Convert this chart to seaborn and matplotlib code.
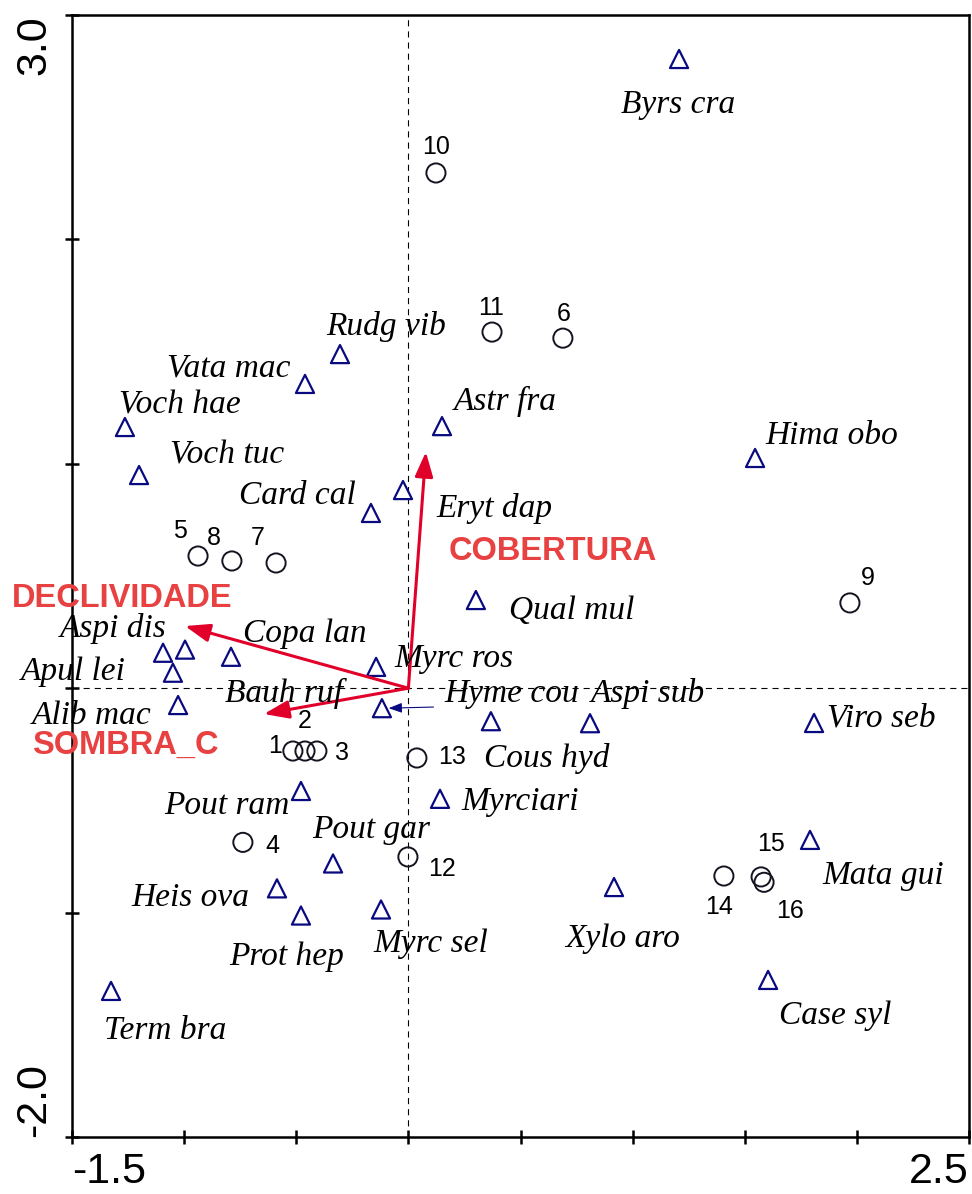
import numpy as np
import pandas as pd
import matplotlib
matplotlib.use("Agg")
import matplotlib.pyplot as plt
import seaborn as sns

# --- CCA scores ---
# sample plots (circles)
site_ids = ["1", "2", "3", "4", "5", "6", "7", "8", "9", "10", "11", "12", "13", "14", "15", "16"]
site_x = [-0.515, -0.461, -0.408, -0.738, -0.938, 0.689, -0.590, -0.787, 1.969, 0.123, 0.373, -0.002, 0.038, 1.407, 1.573, 1.586]
site_y = [-0.280, -0.280, -0.280, -0.687, 0.589, 1.560, 0.558, 0.567, 0.380, 2.296, 1.587, -0.752, -0.311, -0.837, -0.841, -0.865]

# species (triangles)
species = ["Byrs cra", "Rudg vib", "Vata mac", "Voch hae", "Astr fra", "Hima obo", "Voch tuc",
           "Eryt dap", "Card cal", "Qual mul", "Aspi dis", "Apul lei", "Copa lan", "Bauh ruf",
           "Myrc ros", "Alib mac", "Hyme cou", "Cous hyd", "Aspi sub", "Viro seb", "Pout ram",
           "Myrciari", "Mata gui", "Pout gar", "Xylo aro", "Heis ova", "Myrc sel", "Prot hep",
           "Case syl", "Term bra"]
sp_x = [1.207, -0.305, -0.461, -1.264, 0.150, 1.546, -1.201, -0.024, -0.167, 0.301, -0.996, -1.094,
        -0.791, -1.050, -0.144, -1.027, -0.118, 0.368, 0.810, 1.809, -0.479, 0.141, 1.791, -0.336,
        0.917, -0.586, -0.122, -0.479, 1.604, -1.326]
sp_y = [2.804, 1.489, 1.356, 1.164, 1.168, 1.026, 0.950, 0.883, 0.781, 0.393, 0.172, 0.158,
        0.140, 0.069, 0.095, -0.075, -0.089, -0.147, -0.156, -0.155, -0.458, -0.493, -0.676, -0.781,
        -0.886, -0.892, -0.986, -1.013, -1.300, -1.349]

# environmental variables (arrows)
env_vars = ["COBERTURA", "DECLIVIDADE", "SOMBRA_C"]
env_x = [0.078, -0.996, -0.644]
env_y = [1.053, 0.277, -0.115]

x_ticks = [-1.5, -1.0, -0.5, 0.0, 0.5, 1.0, 1.5, 2.0, 2.5]
x_ticklabels = ["-1.5", "", "", "", "", "", "", "", "2.5"]
y_ticks = [-2.0, -1.0, 0.0, 1.0, 2.0, 3.0]
y_ticklabels = ["-2.0", "", "", "", "", "3.0"]

# --- label placement (centre of each text) ---
sp_label_pos = {
    "Byrs cra": (1.202, 2.602), "Rudg vib": (-0.100, 1.613), "Vata mac": (-0.800, 1.425),
    "Voch hae": (-1.018, 1.260), "Voch tuc": (-0.809, 1.037), "Astr fra": (0.431, 1.278),
    "Hima obo": (1.889, 1.127), "Card cal": (-0.497, 0.859), "Eryt dap": (0.382, 0.801),
    "Qual mul": (0.730, 0.347), "Aspi dis": (-1.317, 0.264), "Copa lan": (-0.461, 0.244),
    "Myrc ros": (0.203, 0.133), "Apul lei": (-1.496, 0.075), "Bauh ruf": (-0.555, -0.023),
    "Hyme cou": (0.462, -0.023), "Aspi sub": (1.068, -0.023), "Alib mac": (-1.411, -0.122),
    "Viro seb": (2.107, -0.135), "Cous hyd": (0.618, -0.312), "Myrciari": (0.498, -0.504),
    "Pout ram": (-0.809, -0.522), "Pout gar": (-0.167, -0.629), "Mata gui": (2.116, -0.838),
    "Heis ova": (-0.974, -0.936), "Myrc sel": (0.101, -1.139), "Xylo aro": (0.953, -1.117),
    "Prot hep": (-0.541, -1.195), "Term bra": (-1.086, -1.526), "Case syl": (1.902, -1.458),
}
site_label_pos = {
    "10": (0.123, 2.412), "11": (0.368, 1.695), "6": (0.694, 1.668), "5": (-1.018, 0.701),
    "8": (-0.867, 0.670), "7": (-0.671, 0.670), "9": (2.049, 0.492), "2": (-0.461, -0.146),
    "1": (-0.595, -0.257), "3": (-0.296, -0.288), "13": (0.194, -0.306), "4": (-0.608, -0.702),
    "12": (0.150, -0.804), "15": (1.617, -0.693), "14": (1.385, -0.974), "16": (1.701, -0.992),
}
env_label_pos = {"COBERTURA": (0.644, 0.608), "DECLIVIDADE": (-1.277, 0.400), "SOMBRA_C": (-1.264, -0.253)}

sns.set_style("ticks")
plt.rcParams["font.family"] = ["Liberation Sans", "DejaVu Sans"]

sites = pd.DataFrame({"id": site_ids, "x": site_x, "y": site_y})
spp = pd.DataFrame({"sp": species, "x": sp_x, "y": sp_y})

fig = plt.figure(figsize=(9.72, 11.94), dpi=100)
ax = fig.add_axes([72 / 972, 1 - 1137 / 1194, 897 / 972, 1122 / 1194])

ax.axhline(0, color="black", lw=0.8, ls=(0, (5.5, 4.5)), zorder=1)
ax.axvline(0, color="black", lw=0.8, ls=(0, (5.5, 4.5)), zorder=1)

sns.scatterplot(data=spp, x="x", y="y", marker="^", s=170, facecolor="none",
                edgecolor="#0a0a80", linewidth=1.6, ax=ax, zorder=3)
sns.scatterplot(data=sites, x="x", y="y", marker="o", s=190, facecolor="none",
                edgecolor="#141420", linewidth=1.4, ax=ax, zorder=3)

# environmental arrows
for name, ex, ey in zip(env_vars, env_x, env_y):
    ax.annotate("", xy=(ex, ey), xytext=(0, 0),
                arrowprops=dict(arrowstyle="-|>,head_length=1.5,head_width=0.55", mutation_scale=10,
                                color="#e0002a", lw=2.2, shrinkA=0, shrinkB=0), zorder=4)
    lx, ly = env_label_pos[name]
    ax.text(lx, ly, name, ha="center", va="center", fontsize=23.5, fontweight="bold",
            color="#e84142", zorder=5)

# small pointer for Hyme cou
i = species.index("Hyme cou")
ax.annotate("", xy=(sp_x[i] + 0.03, sp_y[i]), xytext=(sp_x[i] + 0.23, sp_y[i] + 0.005),
            arrowprops=dict(arrowstyle="-|>,head_length=0.8,head_width=0.3", mutation_scale=10,
                            color="#0a0a80", lw=0.8, shrinkA=0, shrinkB=0), zorder=4)

for name in species:
    lx, ly = sp_label_pos[name]
    ax.text(lx, ly, name, ha="center", va="center", fontsize=24, fontstyle="italic",
            family=["Liberation Serif", "DejaVu Serif"], color="black", zorder=5)

for sid in site_ids:
    lx, ly = site_label_pos[sid]
    ax.text(lx, ly, sid, ha="center", va="center", fontsize=18, color="black", zorder=5)

ax.set_xlim(-1.5, 2.5)
ax.set_ylim(-2.0, 3.0)
ax.set_xlabel("")
ax.set_ylabel("")
ax.set_xticks(x_ticks)
ax.set_xticklabels(x_ticklabels)
ax.set_yticks(y_ticks)
ax.set_yticklabels(y_ticklabels, rotation=90)
xl = ax.get_xticklabels()
xl[0].set_ha("left")
xl[-1].set_ha("right")
yl = ax.get_yticklabels()
yl[0].set_va("bottom")
yl[-1].set_va("top")
ax.tick_params(axis="both", direction="inout", length=10, width=1.8, labelsize=31, pad=6,
               colors="black", labelcolor="black")
ax.tick_params(axis="y", pad=8)
for sp in ax.spines.values():
    sp.set_linewidth(1.8)
    sp.set_color("black")

fig.savefig("out.png", dpi=100)
